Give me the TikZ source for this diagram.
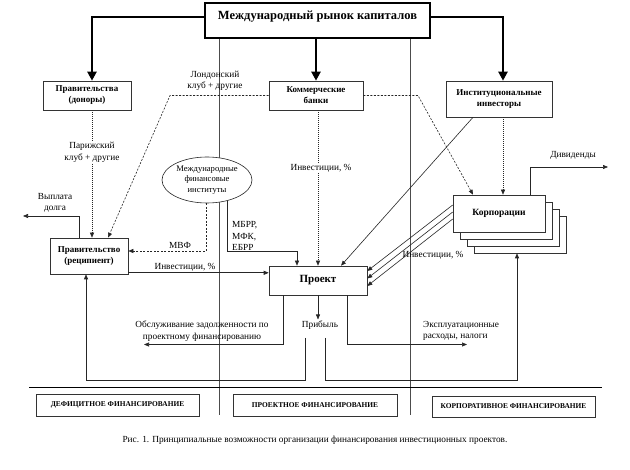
\documentclass[tikz,border=0pt]{standalone}
\usepackage{fontspec}
\setmainfont{Liberation Serif}
\usetikzlibrary{arrows.meta,shapes.geometric}
\begin{document}
\begin{tikzpicture}[x=1pt,y=-1pt,
  box/.style={draw=black!80, line width=0.6pt, align=center, fill=white,
    font=\fontsize{9}{11}\selectfont\bfseries, inner sep=1pt},
  lab/.style={align=center, font=\fontsize{9.3}{11.5}\selectfont, inner sep=1pt},
  bottombox/.style={draw=black!80, line width=0.6pt, fill=white,
    font=\fontsize{7.4}{8}\selectfont\bfseries, inner sep=1pt},
  thickarr/.style={line width=2.2pt, -{Triangle[length=9pt,width=9pt]}},
  arr/.style={-{Triangle[length=5pt,width=4pt]}},
  conn/.style={line width=0.6pt, draw=black!85},
  dsh/.style={conn, dash pattern=on 2pt off 1.5pt},
  dotln/.style={conn, dash pattern=on 1pt off 1pt},
  sep/.style={line width=0.5pt, draw=black!70},
]
\fill[white] (0,0) rectangle (630,470);
\useasboundingbox (0,0) rectangle (630,470);

% column separators and base line
\coordinate (s1a) at (219,38); \coordinate (s1b) at (219,415);
\coordinate (s2a) at (410,38); \coordinate (s2b) at (410,415);
\coordinate (hl1) at (29,387); \coordinate (hl2) at (602,387);
\draw[sep] (s1a) -- (s1b);
\draw[sep] (s2a) -- (s2b);
\draw[line width=0.8pt] (hl1) -- (hl2);

% main nodes
\node[draw, line width=1.6pt, minimum width=225pt, minimum height=35pt,
  text height=8pt, text depth=10pt, inner sep=0pt,
  font=\fontsize{12.5}{14}\selectfont\bfseries] (top) at (317.5,20.5)
  {Международный рынок капиталов};
\node[box, minimum width=88pt, minimum height=29pt] (gd) at (87,95.5) {Правительства\\(доноры)};
\node[box, minimum width=94pt, minimum height=29pt] (cb) at (316,95.5) {Коммерческие\\банки};
\node[box, minimum width=106pt, minimum height=36pt] (ii) at (499,99) {Институциональные\\инвесторы};
\node[box, minimum width=78pt, minimum height=36pt] (rec) at (89,256) {Правительство\\(реципиент)};
\node[box, minimum width=98pt, minimum height=29pt, font=\fontsize{11}{13}\selectfont\bfseries] (proj) at (318,280.5) {Проект};
\node[ellipse, draw=black!85, line width=0.6pt, fill=white, minimum width=90pt, minimum height=46pt,
  inner sep=0pt, align=center, font=\fontsize{8.6}{10.5}\selectfont] (ifi) at (207,180)
  {Международные\\финансовые\\институты};
\node[box, minimum width=92pt, minimum height=37pt] (corp3) at (520,234.5) {};
\node[box, minimum width=92pt, minimum height=37pt] (corp2) at (513,227.5) {};
\node[box, minimum width=92pt, minimum height=37pt] (corp1) at (506,220.5) {};
\node[box, minimum width=92pt, minimum height=37pt, font=\fontsize{9.5}{11}\selectfont\bfseries] (corp) at (499,213.5) {Корпорации};

\node[bottombox, minimum width=163pt, minimum height=22pt] (def) at (117.5,405) {ДЕФИЦИТНОЕ ФИНАНСИРОВАНИЕ};
\node[bottombox, minimum width=164pt, minimum height=22pt] (pro) at (315,405) {ПРОЕКТНОЕ ФИНАНСИРОВАНИЕ};
\node[bottombox, minimum width=163pt, minimum height=21pt] (korp) at (513.5,406.5) {КОРПОРАТИВНОЕ ФИНАНСИРОВАНИЕ};

\node[font=\fontsize{9.3}{11}\selectfont] (cap) at (315,440)
  {Рис. 1. Принципиальные возможности организации финансирования инвестиционных проектов.};

% labels
\node[lab] (lond) at (215,81) {Лондонский\\клуб + другие};
\node[lab] (paris) at (92,152.5) {Парижский\\клуб + другие};
\node[lab] (inv1) at (321,168) {Инвестиции, \%};
\node[lab] (vyp) at (55,203) {Выплата\\долга};
\node[lab] (mvf) at (180,245) {МВФ};
\node[lab, align=left, anchor=west] (mbrr) at (231,236) {МБРР,\\МФК,\\ЕБРР};
\node[lab] (inv2) at (185,267) {Инвестиции, \%};
\node[lab] (inv3) at (433,255) {Инвестиции, \%};
\node[lab] (div) at (573,155) {Дивиденды};
\node[lab] (prib) at (320,325) {Прибыль};
\node[lab] (obsl) at (202,331) {Обслуживание задолженности по\\проектному финансированию};
\node[lab, align=left, anchor=west] (expll) at (422,331) {Эксплуатационные\\расходы, налоги};

% free-end coordinates
\coordinate (lc) at (170,95.5);
\coordinate (bc) at (418,95.5);
\coordinate (vd) at (23,216);
\coordinate (dv) at (608,167);
\coordinate (obs) at (144,344.5);
\coordinate (expl) at (467,344.5);
\coordinate (pl) at (305,338);
\coordinate (pr) at (325,338);
\coordinate (lowl) at (305,380);
\coordinate (lowr) at (325,380);

% thick arrows
\draw[thickarr] ([yshift=3.5pt]top.west) -| ([xshift=5pt]gd.north);
\draw[thickarr] (top.south -| cb.north) -- (cb.north);
\draw[thickarr] ([yshift=3.5pt]top.east) -| ([xshift=4pt]ii.north);

% connectors
\draw[dotln] ([xshift=5pt]gd.south) -- (paris.north);
\draw[dotln,arr] (paris.south) -- ([xshift=3pt]rec.north);
\draw[dsh,arr] (cb.west) -- (lc) -- ([xshift=19pt]rec.north);
\draw[dotln] (cb.south -| proj.north) -- (inv1.north -| proj.north);
\draw[dotln,arr] (inv1.south -| proj.north) -- (proj.north);
\draw[conn,arr] ([xshift=-26pt]ii.south) -- ([xshift=23pt]proj.north);
\draw[dotln,arr] ([xshift=4pt]ii.south) -- ([xshift=4pt]corp.north);
\draw[dsh,arr] (cb.east) -- (bc) -- ([xshift=-26pt]corp.north);
\draw[dsh,arr] ([xshift=-1pt]ifi.south) |- ([yshift=5pt]rec.east);
\draw[conn,arr] ([xshift=20pt,yshift=2.4pt]ifi.south) |- ([xshift=-21pt,yshift=14pt]proj.north) -- ([xshift=-21pt]proj.north);
\coordinate (gp) at ([yshift=1.5pt]rec.south east);
\draw[conn,arr] (gp) -- (gp -| proj.west);
\draw[conn,arr] ([xshift=-10pt]rec.north) |- (vd);
\draw[conn,arr] ([yshift=8.5pt]corp.west) -- ([yshift=9.5pt]proj.east);
\draw[conn,arr] ([yshift=1.5pt]corp.west) -- ([yshift=2pt]proj.east);
\draw[conn,arr] ([yshift=-5.5pt]corp.west) -- ([yshift=-5.5pt]proj.east);
\draw[conn,arr] ([xshift=31pt]corp.north) |- (dv);
\draw[conn,arr] (proj.south) -- (proj.south |- prib.north);
\draw[conn,arr] (pl) -- (lowl) -| ([xshift=-3pt]rec.south);
\draw[conn,arr] (pr) -- (lowr) -| ([xshift=-3pt]corp3.south);
\draw[conn,arr] ([xshift=-35pt]proj.south) |- (obs);
\draw[conn,arr] ([xshift=29pt]proj.south) |- (expl);
\end{tikzpicture}
\end{document}
